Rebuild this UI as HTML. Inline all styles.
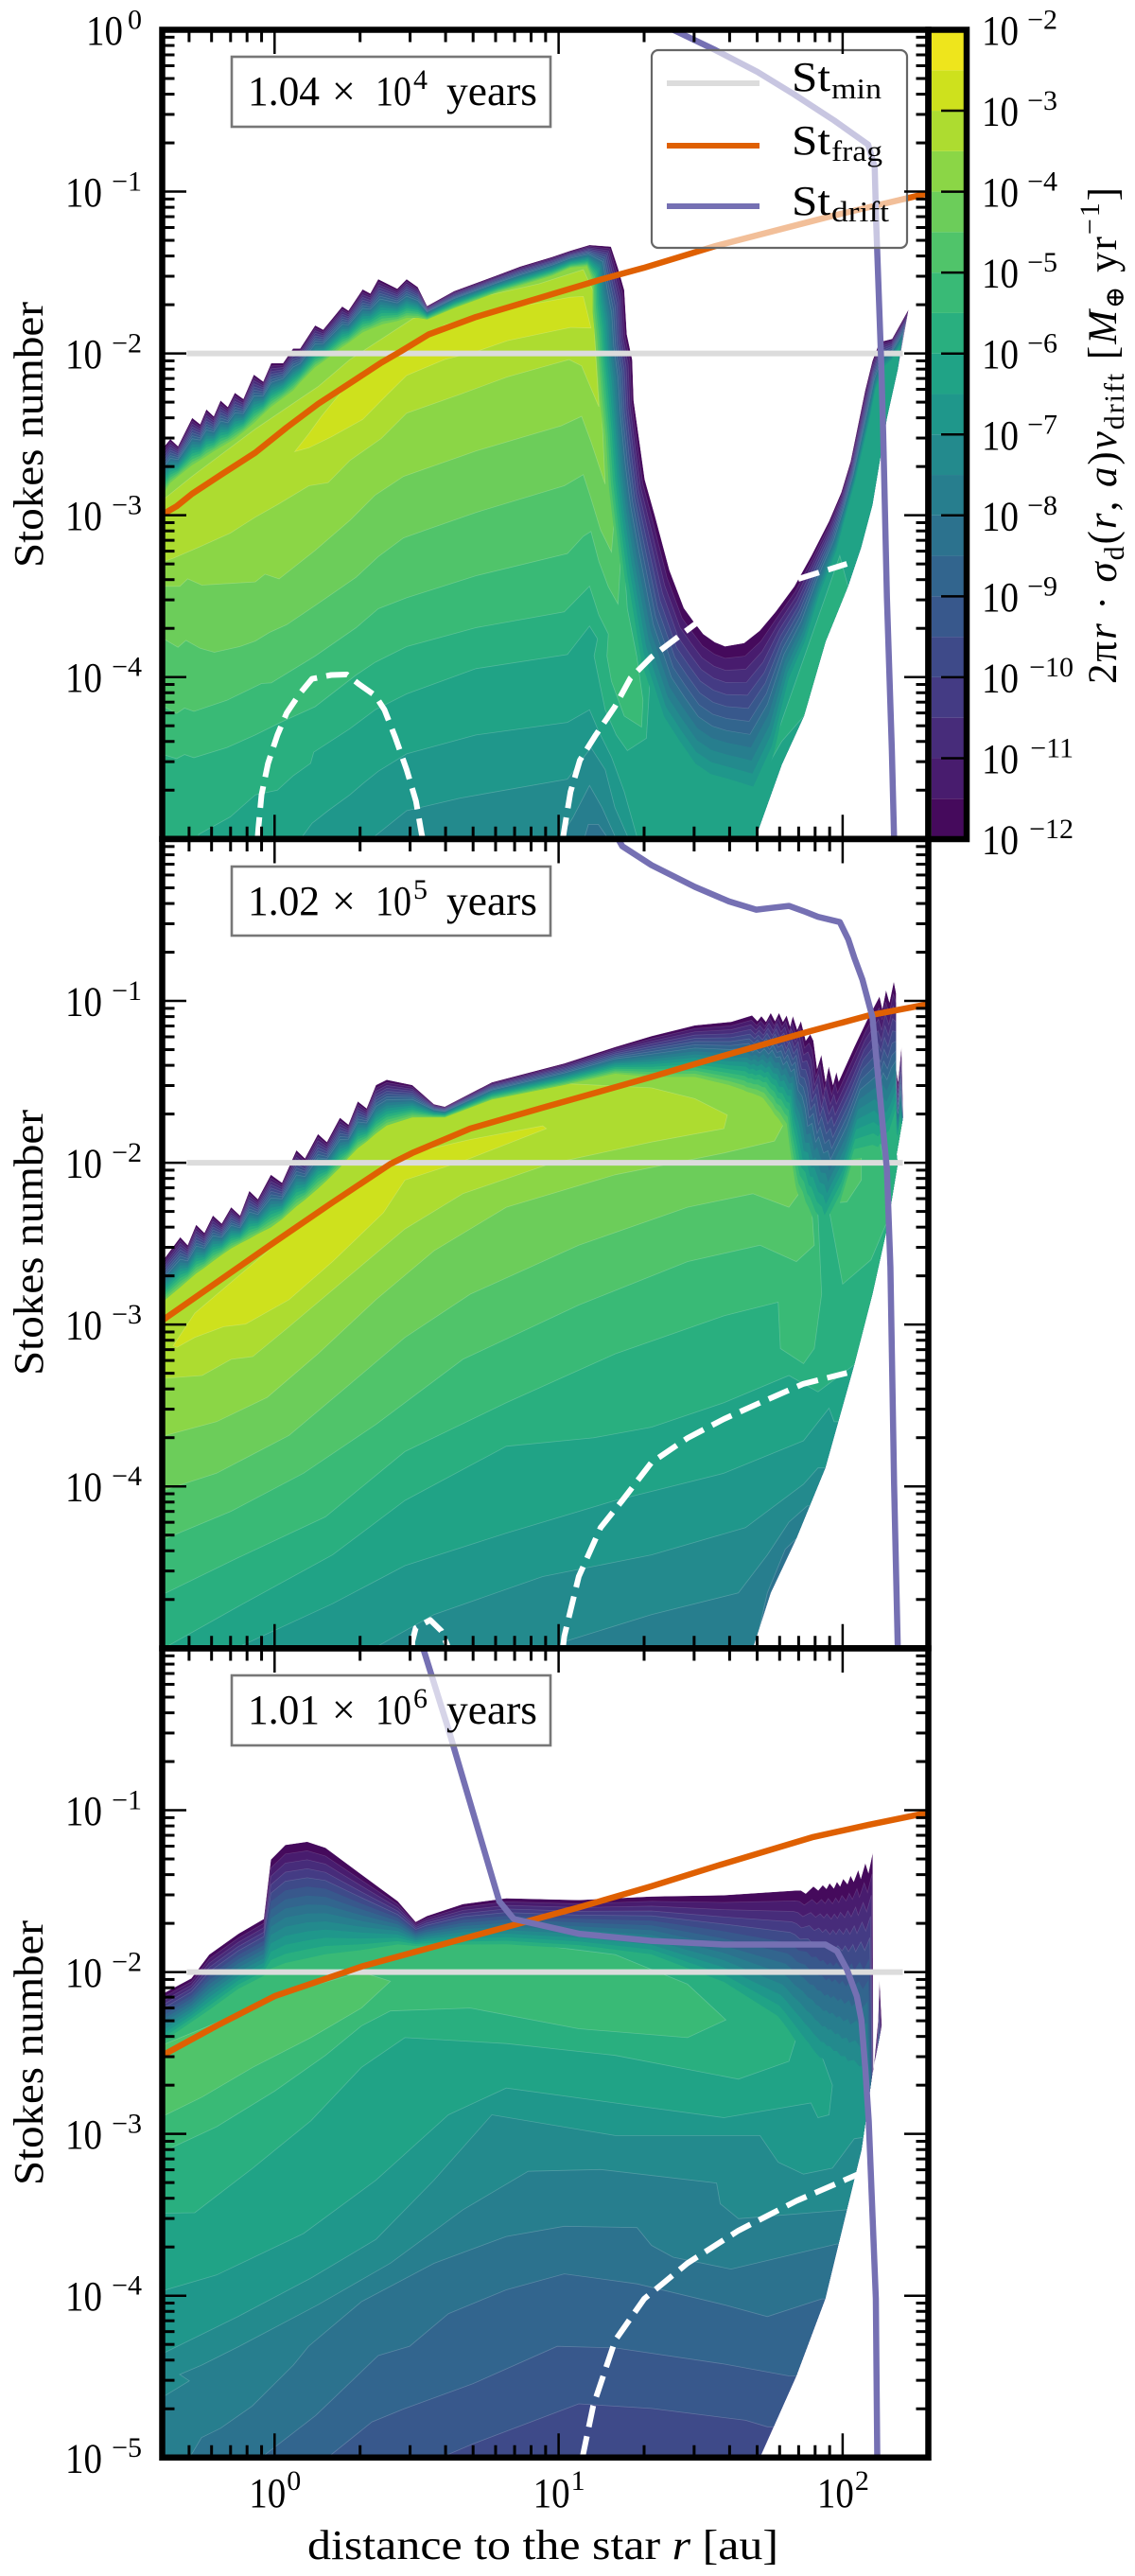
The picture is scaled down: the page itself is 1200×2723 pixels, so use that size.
<!DOCTYPE html>
<html lang="en">
<head>
<meta charset="utf-8">
<title>Stokes number distribution panels</title>
<style>
html,body{margin:0;padding:0;background:#fff;}
svg{display:block;font-family:"Liberation Serif","DejaVu Serif",serif;}
</style>
</head>
<body>
<svg id="chart" xmlns="http://www.w3.org/2000/svg" width="1200" height="2723" viewBox="0 0 1200 2723">
<rect x="0" y="0" width="1200" height="2723" fill="#fff"/>
<g id="panels"></g>
<g id="colorbar"></g>

<g font-size="44" fill="#000">
<text transform="translate(45,600) rotate(-90)" textLength="281" lengthAdjust="spacingAndGlyphs">Stokes number</text>
<text transform="translate(45,1454) rotate(-90)" textLength="281" lengthAdjust="spacingAndGlyphs">Stokes number</text>
<text transform="translate(45,2310) rotate(-90)" textLength="280" lengthAdjust="spacingAndGlyphs">Stokes number</text>
</g>
<text x="325" y="2705" font-size="44" textLength="498" lengthAdjust="spacingAndGlyphs">distance to the star <tspan font-style="italic">r</tspan> [au]</text>
<text transform="translate(1180,723) rotate(-90)" font-size="43" textLength="525" lengthAdjust="spacing">2π<tspan font-style="italic">r</tspan> · <tspan font-style="italic">σ</tspan><tspan font-size="30" dy="8">d</tspan><tspan dy="-8">(</tspan><tspan font-style="italic">r</tspan>, <tspan font-style="italic">a</tspan>)<tspan font-style="italic">v</tspan><tspan font-size="30" dy="8">drift</tspan><tspan dy="-8"> [</tspan><tspan font-style="italic">M</tspan><tspan font-size="28" dy="8">⊕</tspan><tspan dy="-8"> yr</tspan><tspan font-size="30" dy="-18">−1</tspan><tspan dy="18">]</tspan></text>

<g>
<rect x="689" y="53" width="270" height="209" rx="7" ry="7" fill="rgba(255,255,255,0.6)" stroke="#666" stroke-width="2.2"/>
<line x1="705" x2="803" y1="88" y2="88" stroke="#dcdcdc" stroke-width="6"/>
<line x1="705" x2="803" y1="154" y2="154" stroke="#df6002" stroke-width="6"/>
<line x1="705" x2="803" y1="218" y2="218" stroke="#7570b3" stroke-width="6"/>
<text y="96" font-size="44"><tspan x="837" textLength="41" lengthAdjust="spacingAndGlyphs">St</tspan><tspan x="879" y="104" font-size="31" textLength="53" lengthAdjust="spacingAndGlyphs">min</tspan></text>
<text y="163" font-size="44"><tspan x="837" textLength="41" lengthAdjust="spacingAndGlyphs">St</tspan><tspan x="879" y="170" font-size="31" textLength="54" lengthAdjust="spacingAndGlyphs">frag</tspan></text>
<text y="227" font-size="44"><tspan x="837" textLength="41" lengthAdjust="spacingAndGlyphs">St</tspan><tspan x="879" y="234" font-size="31" textLength="61" lengthAdjust="spacingAndGlyphs">drift</tspan></text>
</g>

<g font-size="44">
<g>
<rect x="245" y="60" width="337" height="74" fill="rgba(255,255,255,0.7)" stroke="#777" stroke-width="2.6"/>
<text y="111"><tspan x="262" textLength="76" lengthAdjust="spacingAndGlyphs">1.04</tspan><tspan x="351">×</tspan><tspan x="397" textLength="38" lengthAdjust="spacingAndGlyphs">10</tspan><tspan x="437" y="94" font-size="30">4</tspan><tspan x="472" y="111" textLength="96" lengthAdjust="spacingAndGlyphs">years</tspan></text>
</g>
<g>
<rect x="245" y="916" width="337" height="73" fill="rgba(255,255,255,0.7)" stroke="#777" stroke-width="2.6"/>
<text y="967"><tspan x="262" textLength="76" lengthAdjust="spacingAndGlyphs">1.02</tspan><tspan x="351">×</tspan><tspan x="397" textLength="38" lengthAdjust="spacingAndGlyphs">10</tspan><tspan x="437" y="950" font-size="30">5</tspan><tspan x="472" y="967" textLength="96" lengthAdjust="spacingAndGlyphs">years</tspan></text>
</g>
<g>
<rect x="245" y="1771" width="337" height="74" fill="rgba(255,255,255,0.7)" stroke="#777" stroke-width="2.6"/>
<text y="1822"><tspan x="262" textLength="76" lengthAdjust="spacingAndGlyphs">1.01</tspan><tspan x="351">×</tspan><tspan x="397" textLength="38" lengthAdjust="spacingAndGlyphs">10</tspan><tspan x="437" y="1805" font-size="30">6</tspan><tspan x="472" y="1822" textLength="96" lengthAdjust="spacingAndGlyphs">years</tspan></text>
</g>
</g>
<g id="frames"></g>
</svg>

<script>
// Pairs below are [log10 r (au), log10 St].
const stMinLevel = -2;
const stMinRange = [-0.309, 2.212];

// Edge arrays: [log r, log St of the outermost contour, log r, log St of the innermost rainbow contour].
// ---------- Panel 1 ----------
const p1Edge = [[-0.4,-2.6,-0.4,-2.89],[-0.367,-2.529,-0.367,-2.8],[-0.34,-2.574,-0.34,-2.76],[-0.29,-2.399,-0.29,-2.69],[-0.262,-2.438,-0.262,-2.66],[-0.24,-2.346,-0.24,-2.635],[-0.214,-2.389,-0.214,-2.605],[-0.19,-2.291,-0.19,-2.58],[-0.165,-2.331,-0.165,-2.553],[-0.14,-2.243,-0.14,-2.527],[-0.11,-2.282,-0.11,-2.485],[-0.073,-2.131,-0.073,-2.43],[-0.04,-2.174,-0.04,-2.375],[-0.012,-2.061,-0.012,-2.33],[0.03,-2.06,0.03,-2.275],[0.065,-1.97,0.065,-2.23],[0.09,-1.97,0.09,-2.18],[0.143,-1.827,0.143,-2.085],[0.171,-1.853,0.171,-2.05],[0.238,-1.71,0.238,-1.96],[0.26,-1.736,0.26,-1.935],[0.31,-1.604,0.31,-1.87],[0.337,-1.63,0.337,-1.85],[0.365,-1.541,0.38,-1.82],[0.432,-1.6,0.432,-1.8],[0.465,-1.541,0.465,-1.78],[0.504,-1.59,0.504,-1.78],[0.537,-1.707,0.537,-1.79],[0.632,-1.615,0.632,-1.72],[0.787,-1.515,0.787,-1.62],[0.865,-1.463,0.865,-1.58],[0.976,-1.404,0.976,-1.52],[1.042,-1.365,1.042,-1.47],[1.109,-1.33,1.1,-1.46],[1.184,-1.34,1.12,-1.55],[1.209,-1.473,1.12,-1.75],[1.231,-1.609,1.13,-1.93],[1.24,-1.882,1.135,-2.05],[1.259,-2.038,1.145,-2.28],[1.264,-2.291,1.16,-2.53],[1.286,-2.564,1.17,-2.85],[1.303,-2.779,1.19,-3.15],[1.339,-3.003,1.21,-3.5],[1.39,-3.339,1.26,-4.1],[1.441,-3.574,1.34,-4.55],[1.475,-3.656,1.4,-4.72],[1.509,-3.734,1.47,-4.9],[1.55,-3.785,1.53,-4.97],[1.586,-3.81,1.6,-5],[1.653,-3.79,1.7,-5.08],[1.708,-3.714,1.77,-4.75],[1.764,-3.597,1.83,-4.2],[1.83,-3.44,1.885,-3.93],[1.89,-3.25,1.93,-3.6],[1.952,-3.037,1.99,-3.3],[1.995,-2.86,2.02,-3.05],[2.028,-2.668,2.05,-2.85],[2.079,-2.232,2.1,-2.5],[2.105,-2.047,2.12,-2.3],[2.13,-1.93,2.15,-2.15],[2.174,-1.91,2.17,-2.1],[2.232,-1.728,2.19,-2.05],[2.194,-2.097,2.194,-2.097],[2.156,-2.4,2.156,-2.4],[2.105,-2.936,2.105,-2.936],[2.065,-3.2,2.065,-3.2],[2.019,-3.44,2.019,-3.44],[1.94,-3.78,1.94,-3.78],[1.864,-4.24,1.864,-4.24],[1.786,-4.54,1.786,-4.54],[1.692,-5,1.692,-5],[-0.4,-5,-0.4,-5]];
const p1Level18 = [[0.071,-2.607],[0.121,-2.496],[0.165,-2.389],[0.265,-2.174],[0.376,-2.038],[0.465,-1.96],[0.598,-1.824],[0.765,-1.736],[0.931,-1.687],[1.042,-1.652],[1.087,-1.648],[1.114,-1.843],[1.042,-1.839],[0.82,-1.921],[0.709,-1.989],[0.598,-2.038],[0.465,-2.136],[0.398,-2.252],[0.31,-2.408],[0.199,-2.516],[0.121,-2.583]];
const p1Level17 = [[-0.4,-2.9],[-0.387,-2.896],[-0.29,-2.759],[-0.068,-2.467],[0.154,-2.204],[0.265,-2.038],[0.487,-1.785],[0.709,-1.658],[0.931,-1.57],[1.087,-1.482],[1.12,-1.609],[1.129,-1.96],[1.142,-2.33],[1.109,-2.194],[1.081,-2.077],[1.037,-2.038],[0.82,-2.145],[0.654,-2.252],[0.465,-2.369],[0.376,-2.525],[0.265,-2.662],[0.188,-2.799],[0.121,-2.818],[0.01,-2.935],[-0.068,-3.012],[-0.156,-3.11],[-0.267,-3.198],[-0.356,-3.265],[-0.387,-3.285],[-0.4,-3.29]];
const p1Level16 = [[-0.4,-3.44],[-0.334,-3.44],[-0.306,-3.393],[-0.256,-3.432],[-0.162,-3.422],[-0.068,-3.412],[-0.034,-3.364],[0.016,-3.393],[0.143,-3.217],[0.265,-3.032],[0.354,-2.876],[0.454,-2.76],[0.709,-2.603],[1.009,-2.447],[1.081,-2.389],[1.114,-2.545],[1.164,-2.808],[1.153,-2.39],[1.16,-1],[-0.4,-1]];
const p1Level15 = [[-0.4,-3.754],[-0.34,-3.816],[-0.312,-3.773],[-0.262,-3.822],[-0.212,-3.847],[-0.123,-3.812],[-0.068,-3.777],[-0.018,-3.724],[0.043,-3.676],[0.143,-3.558],[0.287,-3.383],[0.365,-3.256],[0.454,-3.14],[0.532,-3.091],[0.709,-2.983],[1.02,-2.818],[1.087,-2.749],[1.114,-2.895],[1.148,-3.091],[1.186,-3.227],[1.198,-2.974],[1.2,-1],[-0.4,-1]];
const p1Level14 = [[-0.4,-4.173],[-0.345,-4.225],[-0.317,-4.192],[-0.284,-4.212],[-0.168,-4.144],[-0.046,-4.04],[-0.012,-4.036],[0.143,-3.87],[0.287,-3.695],[0.365,-3.578],[0.465,-3.51],[0.709,-3.374],[1.031,-3.237],[1.087,-3.13],[1.114,-3.1],[1.142,-3.286],[1.175,-3.442],[1.209,-3.549],[1.218,-3.286],[1.24,-1],[-0.4,-1]];
const p1Level13 = [[-0.4,-4.475],[-0.345,-4.504],[-0.317,-4.479],[-0.284,-4.498],[-0.168,-4.436],[-0.068,-4.358],[0.021,-4.28],[0.143,-4.183],[0.287,-3.987],[0.354,-3.909],[0.465,-3.812],[0.709,-3.695],[1.02,-3.597],[1.109,-3.438],[1.142,-3.617],[1.175,-3.734],[1.17,-3.87],[1.186,-4.027],[1.231,-4.241],[1.292,-4.309],[1.297,-4.144],[1.275,-3.87],[1.242,-3.578],[1.231,-3.286],[1.25,-1],[-0.4,-1]];
const p1Level12 = [[-0.4,-5],[-0.267,-5],[-0.267,-4.972],[-0.156,-4.864],[-0.068,-4.728],[0.01,-4.699],[0.065,-4.611],[0.127,-4.533],[0.138,-4.464],[0.265,-4.319],[0.354,-4.202],[0.465,-4.104],[0.709,-3.948],[1.031,-3.861],[1.109,-3.685],[1.137,-3.763],[1.125,-3.87],[1.164,-4.202],[1.203,-4.358],[1.242,-4.455],[1.309,-4.378],[1.32,-4.065],[1.297,-3.675],[1.264,-3.286],[1.27,-1],[-0.4,-1]];
const p1Level12b = [[1.703,-4.65],[1.786,-4.397],[1.864,-4.24],[2.019,-3.44],[1.99,-3.25],[1.92,-3.6],[1.85,-3.95],[1.78,-4.3],[1.72,-4.6]];
const p1Level11 = [[-0.4,-5],[0.099,-5],[0.099,-4.982],[0.132,-4.904],[0.188,-4.826],[0.265,-4.728],[0.31,-4.66],[0.365,-4.582],[0.465,-4.475],[0.709,-4.358],[1.031,-4.28],[1.109,-4.202],[1.142,-4.338],[1.186,-4.494],[1.231,-4.709],[1.275,-4.982],[1.28,-5],[2.4,-5],[2.4,0],[-0.4,0]];
const p1Level10 = [[-0.4,-5],[0.354,-5],[0.354,-4.982],[0.465,-4.826],[0.654,-4.748],[1.031,-4.631],[1.114,-4.436],[1.164,-4.572],[1.198,-4.806],[1.242,-4.982],[1.25,-5],[2.4,-5],[2.4,0],[-0.4,0]];
const p1Level9 = [[-0.4,-5],[1.0,-5],[1.05,-4.87],[1.109,-4.67],[1.153,-4.806],[1.198,-4.982],[1.2,-5],[2.4,-5],[2.4,0],[-0.4,0]];
const p1Level8 = [[-0.4,-5],[1.09,-5],[1.105,-4.91],[1.14,-4.91],[1.175,-5],[2.4,-5],[2.4,0],[-0.4,0]];
const p1Frag = [[-0.4,-3.0],[-0.345,-2.945],[-0.29,-2.867],[-0.179,-2.739],[-0.068,-2.613],[0.043,-2.457],[0.154,-2.311],[0.265,-2.184],[0.376,-2.057],[0.443,-1.989],[0.543,-1.882],[0.709,-1.775],[0.931,-1.658],[1.153,-1.541],[1.298,-1.472],[1.553,-1.336],[1.964,-1.15],[2.301,-1.01]];
const p1Drift = [[1.403,0],[1.553,-0.126],[1.7,-0.26],[1.83,-0.4],[1.97,-0.56],[2.09,-0.71],[2.113,-0.85],[2.118,-1.18],[2.136,-2.06],[2.143,-2.5],[2.156,-3.507],[2.173,-4.446],[2.181,-5]];
const p1DashA = [[-0.06,-5],[-0.057,-4.933],[-0.046,-4.728],[-0.023,-4.533],[0.01,-4.358],[0.043,-4.221],[0.088,-4.104],[0.132,-4.011],[0.199,-3.987],[0.254,-3.984],[0.299,-4.046],[0.354,-4.114],[0.387,-4.202],[0.426,-4.377],[0.465,-4.572],[0.498,-4.767],[0.518,-4.972],[0.522,-5]];
const p1DashB = [[1.015,-5],[1.02,-4.943],[1.042,-4.709],[1.075,-4.514],[1.131,-4.358],[1.198,-4.183],[1.253,-4.006],[1.327,-3.876],[1.48,-3.674],[1.6,-3.56],[1.75,-3.44],[1.85,-3.39],[2.015,-3.3]];

// ---------- Panel 2 ----------
const p2Edge = [[-0.4,-2.62,-0.4,-2.87],[-0.332,-2.46,-0.332,-2.77],[-0.306,-2.51,-0.306,-2.73],[-0.276,-2.383,-0.276,-2.685],[-0.247,-2.433,-0.247,-2.65],[-0.217,-2.326,-0.217,-2.61],[-0.186,-2.376,-0.186,-2.57],[-0.153,-2.275,-0.153,-2.53],[-0.122,-2.326,-0.122,-2.5],[-0.089,-2.174,-0.089,-2.47],[-0.059,-2.225,-0.059,-2.44],[-0.013,-2.074,-0.013,-2.4],[0.026,-2.124,0.026,-2.35],[0.077,-1.923,0.077,-2.27],[0.107,-1.973,0.107,-2.23],[0.153,-1.822,0.153,-2.16],[0.184,-1.872,0.184,-2.11],[0.23,-1.722,0.23,-2.03],[0.26,-1.765,0.26,-1.97],[0.293,-1.621,0.293,-1.91],[0.324,-1.664,0.324,-1.87],[0.357,-1.52,0.357,-1.82],[0.395,-1.487,0.395,-1.77],[0.485,-1.52,0.485,-1.72],[0.561,-1.638,0.561,-1.72],[0.599,-1.654,0.599,-1.72],[0.765,-1.503,0.765,-1.61],[1.02,-1.386,1.02,-1.52],[1.199,-1.285,1.199,-1.45],[1.327,-1.218,1.327,-1.47],[1.48,-1.151,1.48,-1.47],[1.608,-1.129,1.6,-1.52],[1.681,-1.09,1.65,-1.55],[1.7,-1.125,1.66,-1.56],[1.714,-1.094,1.67,-1.565],[1.73,-1.129,1.68,-1.57],[1.747,-1.074,1.695,-1.58],[1.762,-1.125,1.71,-1.59],[1.776,-1.074,1.72,-1.6],[1.79,-1.129,1.735,-1.635],[1.803,-1.09,1.75,-1.67],[1.815,-1.158,1.76,-1.7],[1.825,-1.094,1.775,-1.73],[1.84,-1.178,1.79,-1.77],[1.853,-1.125,1.8,-1.8],[1.87,-1.246,1.81,-1.95],[1.886,-1.206,1.82,-2.08],[1.897,-1.246,1.83,-2.2],[1.91,-1.42,1.835,-2.23],[1.925,-1.333,1.85,-2.3],[1.94,-1.5,1.86,-2.35],[1.951,-1.405,1.87,-2.4],[1.966,-1.52,1.89,-2.48],[1.978,-1.44,1.91,-2.55],[1.986,-1.499,1.92,-2.6],[2.041,-1.285,1.98,-2.4],[2.086,-1.119,2.03,-2.1],[2.13,-0.973,2.1,-2.1],[2.14,-1.05,2.12,-2.1],[2.153,-0.934,2.13,-2.1],[2.165,-1.01,2.145,-2.1],[2.18,-0.88,2.16,-2.1],[2.188,-0.953,2.188,-1.9],[2.188,-1.421,2.19,-1.95],[2.195,-1.5,2.195,-1.95],[2.207,-1.285,2.2,-1.9],[2.213,-1.713,2.213,-1.8],[2.19,-1.947,2.19,-1.947],[2.194,-2.007,2.194,-2.007],[2.156,-2.409,2.156,-2.409],[2.105,-2.812,2.105,-2.812],[2.041,-3.248,2.041,-3.248],[1.939,-3.886,1.939,-3.886],[1.837,-4.322,1.837,-4.322],[1.747,-4.658,1.747,-4.658],[1.684,-5,1.684,-5],[-0.4,-5,-0.4,-5]];
const p2Level18 = [[-0.357,-3.131],[-0.281,-2.93],[0,-2.51],[0.255,-2.191],[0.485,-1.94],[0.689,-1.856],[0.944,-1.772],[0.957,-1.789],[0.663,-1.99],[0.459,-2.107],[0.383,-2.309],[0.204,-2.611],[0.051,-2.846],[-0.102,-2.997],[-0.179,-3.013],[-0.281,-3.08],[-0.344,-3.141]];
const p2Level17 = [[1.582,-1.789],[1.327,-1.872],[0.969,-2.007],[0.663,-2.191],[0.459,-2.409],[0.255,-2.711],[0.051,-3.013],[-0.077,-3.198],[-0.153,-3.215],[-0.255,-3.315],[-0.383,-3.332],[-0.4,-3.335],[-0.4,-1.5],[0.9,-1.5],[1.327,-1.537],[1.48,-1.604],[1.594,-1.705]];
const p2Level16 = [[-0.4,-3.7],[-0.383,-3.685],[-0.204,-3.6],[-0.026,-3.45],[0.153,-3.181],[0.357,-2.846],[0.561,-2.544],[0.816,-2.275],[1.199,-2.074],[1.582,-1.94],[1.76,-1.866],[1.811,-1.7],[1.73,-1.55],[1.7,-1],[-0.4,-1]];
const p2Level15 = [[-0.4,-4.03],[-0.383,-4.02],[-0.204,-3.919],[0.051,-3.685],[0.255,-3.383],[0.459,-3.08],[0.689,-2.812],[1.071,-2.51],[1.454,-2.275],[1.684,-2.191],[1.811,-2.275],[1.867,-2.141],[1.798,-1.705],[1.798,-1.3],[1.8,-1],[-0.4,-1]];
const p2Level14 = [[-0.4,-4.33],[-0.383,-4.322],[-0.153,-4.154],[0.102,-3.919],[0.357,-3.617],[0.663,-3.215],[1.071,-2.879],[1.454,-2.611],[1.709,-2.51],[1.837,-2.611],[1.9,-2.51],[1.888,-2.208],[1.849,-1.973],[1.85,-1.5],[1.85,-1],[-0.4,-1]];
const p2Level14b = [[1.977,-2.248],[1.952,-2.107],[1.99,-1.839],[2.028,-1.705],[2.066,-1.873],[2.066,-2.107],[2.015,-2.242]];
const p2Level13 = [[-0.4,-4.66],[-0.383,-4.658],[-0.128,-4.44],[0.179,-4.188],[0.459,-3.785],[0.816,-3.483],[1.199,-3.181],[1.582,-2.946],[1.773,-2.862],[1.781,-3.148],[1.862,-3.242],[1.9,-3.148],[1.926,-2.812],[1.913,-2.309],[1.9,-2.1],[1.9,-1],[-0.4,-1]];
const p2Level13b = [[1.953,-2.3],[1.96,-2.0],[2.0,-1.75],[2.07,-1.6],[2.12,-1.75],[2.15,-2.05],[2.16,-2.35],[2.1,-2.6],[2.0,-2.75]];
const p2Level12 = [[-0.4,-5],[-0.383,-4.993],[-0.128,-4.742],[0.204,-4.423],[0.459,-4.087],[0.816,-3.752],[1.122,-3.7],[1.327,-3.634],[1.582,-3.483],[1.811,-3.315],[1.913,-3.416],[2.041,-3.248],[2.4,-3.25],[2.4,-1],[-0.4,-1]];
const p2Level11 = [[-0.4,-5],[-0.128,-5],[-0.128,-4.993],[0.204,-4.725],[0.459,-4.49],[0.816,-4.289],[1.199,-4.087],[1.582,-3.919],[1.862,-3.718],[1.952,-3.517],[1.97,-3.6],[2.4,-3.6],[2.4,-1],[-0.4,-1]];
const p2Level10 = [[-0.4,-5],[0.33,-5],[0.357,-4.993],[0.561,-4.792],[0.944,-4.557],[1.327,-4.423],[1.658,-4.255],[1.862,-3.987],[1.913,-3.886],[2.4,-3.89],[2.4,-1],[-0.4,-1]];
const p2Level9 = [[-0.4,-5],[0.98,-5],[1.02,-4.96],[1.327,-4.792],[1.633,-4.658],[1.735,-4.423],[1.811,-4.221],[1.875,-4.121],[2.4,-4.12],[2.4,-1],[-0.4,-1]];
const p2Level8 = [[-0.4,-5],[1.68,-5],[1.696,-4.96],[1.735,-4.658],[1.798,-4.389],[1.837,-4.322],[2.4,-4.32],[2.4,-1],[-0.4,-1]];
const p2Frag = [[-0.4,-2.98],[-0.204,-2.74],[0,-2.49],[0.204,-2.245],[0.408,-2.007],[0.485,-1.94],[0.689,-1.789],[0.944,-1.66],[1.327,-1.47],[1.497,-1.381],[1.709,-1.275],[1.886,-1.187],[2.092,-1.09],[2.301,-1.02]];
const p2Drift = [[1.21,0],[1.224,-0.044],[1.327,-0.161],[1.48,-0.295],[1.6,-0.385],[1.696,-0.436],[1.75,-0.425],[1.811,-0.413],[1.87,-0.45],[1.913,-0.48],[1.99,-0.513],[2.02,-0.62],[2.041,-0.732],[2.07,-0.87],[2.105,-1.1],[2.156,-2.04],[2.168,-2.644],[2.181,-3.987],[2.194,-5]];
const p2DashA = [[0.485,-5],[0.485,-4.96],[0.497,-4.876],[0.548,-4.826],[0.587,-4.893],[0.607,-4.977],[0.61,-5]];
const p2DashB = [[1.015,-5],[1.02,-4.926],[1.071,-4.557],[1.148,-4.255],[1.224,-4.087],[1.327,-3.852],[1.454,-3.701],[1.582,-3.584],[1.709,-3.483],[1.862,-3.366],[2.015,-3.299]];

// ---------- Panel 3 ----------
const p3Edge = [[-0.4,-2.14,-0.4,-2.46],[-0.293,-2.039,-0.293,-2.33],[-0.23,-1.892,-0.23,-2.26],[-0.128,-1.764,-0.128,-2.13],[-0.038,-1.672,-0.038,-2.05],[-0.013,-1.305,-0.013,-2.03],[0.038,-1.214,0.038,-2.0],[0.115,-1.195,0.115,-1.97],[0.179,-1.232,0.179,-1.94],[0.306,-1.397,0.306,-1.9],[0.434,-1.562,0.434,-1.85],[0.497,-1.69,0.497,-1.85],[0.536,-1.654,0.536,-1.85],[0.663,-1.58,0.663,-1.85],[0.816,-1.544,0.816,-1.85],[1.071,-1.555,1.071,-1.88],[1.327,-1.533,1.327,-1.95],[1.582,-1.525,1.582,-2.15],[1.837,-1.496,1.76,-2.4],[1.853,-1.496,1.78,-2.45],[1.87,-1.516,1.8,-2.5],[1.897,-1.471,1.83,-2.6],[1.914,-1.496,1.85,-2.65],[1.93,-1.463,1.865,-2.7],[1.943,-1.486,1.88,-2.74],[1.954,-1.451,1.89,-2.78],[1.969,-1.483,1.905,-2.81],[1.98,-1.443,1.915,-2.83],[1.991,-1.471,1.925,-2.85],[2.002,-1.424,1.935,-2.87],[2.017,-1.457,1.95,-2.9],[2.028,-1.405,1.96,-2.92],[2.039,-1.443,1.975,-2.95],[2.055,-1.369,1.99,-2.98],[2.064,-1.424,2.0,-3.0],[2.08,-1.327,2.025,-3.03],[2.091,-1.389,2.045,-3.06],[2.106,-1.262,2.07,-3.1],[2.108,-2.62,2.1,-3.2],[2.125,-2.3,2.12,-2.9],[2.13,-2.05,2.12,-2.9],[2.138,-2.33,2.12,-2.9],[2.105,-2.626,2.105,-2.9],[2.066,-3.102,2.066,-3.102],[2.015,-3.469,2.015,-3.469],[1.939,-4.019,1.939,-4.019],[1.837,-4.496,1.837,-4.496],[1.709,-5,1.709,-5],[-0.4,-5,-0.4,-5]];
const p3Level14 = [[-0.4,-2.89],[-0.383,-2.882],[-0.255,-2.772],[-0.077,-2.589],[0.128,-2.405],[0.306,-2.222],[0.408,-2.057],[0.306,-2.0],[0,-2.149],[-0.23,-2.332],[-0.383,-2.442],[-0.4,-2.45]];
const p3Level13 = [[-0.4,-3.11],[-0.383,-3.102],[-0.204,-2.956],[0,-2.736],[0.179,-2.515],[0.306,-2.332],[0.408,-2.24],[0.689,-2.222],[1.071,-2.35],[1.454,-2.405],[1.589,-2.295],[1.454,-2.075],[1.199,-1.892],[0.944,-1.837],[0.9,-1],[-0.4,-1]];
const p3Level12 = [[-0.4,-3.49],[-0.281,-3.487],[-0.077,-3.212],[0.128,-2.919],[0.306,-2.589],[0.459,-2.405],[0.816,-2.442],[1.199,-2.515],[1.633,-2.662],[1.811,-2.552],[1.837,-2.405],[1.735,-2.149],[1.454,-1.929],[1.071,-1.782],[0.9,-1],[-0.4,-1]];
const p3Level11 = [[-0.4,-3.97],[-0.383,-3.964],[-0.204,-3.872],[0.102,-3.616],[0.357,-3.286],[0.612,-2.882],[0.816,-2.717],[1.199,-2.809],[1.582,-2.9],[1.888,-2.809],[1.913,-2.9],[1.952,-2.882],[1.964,-2.699],[1.888,-2.332],[1.684,-2.039],[1.327,-1.782],[0.9,-1],[-0.4,-1]];
const p3Level10 = [[-0.4,-4.36],[-0.383,-4.348],[-0.128,-4.128],[0.128,-3.891],[0.357,-3.652],[0.561,-3.286],[0.765,-2.882],[1.199,-3.01],[1.709,-3.01],[1.773,-3.175],[1.862,-3.249],[1.964,-3.212],[2.041,-3.03],[2.15,-3],[2.4,-3],[2.4,-1],[-0.4,-1]];
const p3Level9 = [[-0.4,-4.633],[-0.3,-4.526],[-0.334,-4.487],[-0.257,-4.429],[-0.124,-4.312],[0.153,-4.056],[0.408,-3.799],[0.663,-3.469],[0.893,-3.231],[1.148,-3.22],[1.556,-3.304],[1.569,-3.432],[1.633,-3.524],[2.015,-3.469],[2.4,-3.47],[2.4,-1],[-0.4,-1]];
const p3Level8 = [[-0.4,-5],[-0.3,-5],[-0.29,-4.974],[-0.257,-4.877],[-0.19,-4.819],[-0.079,-4.682],[0.066,-4.429],[0.12,-4.312],[0.306,-4.037],[0.561,-3.8],[0.816,-3.634],[1.02,-3.571],[1.276,-3.579],[1.327,-3.689],[1.403,-3.762],[1.607,-3.836],[1.98,-3.68],[2.4,-3.68],[2.4,-1],[-0.4,-1]];
const p3Level7 = [[-0.4,-5],[-0.034,-5],[-0.034,-4.983],[0.145,-4.74],[0.365,-4.37],[0.476,-4.312],[0.612,-4.111],[0.816,-3.964],[1.02,-3.865],[1.276,-3.927],[1.582,-4.056],[1.735,-4.129],[1.926,-4.02],[2.4,-4.02],[2.4,-1],[-0.4,-1]];
const p3Level6 = [[-0.4,-5],[0.19,-5],[0.199,-4.983],[0.343,-4.78],[0.455,-4.7],[0.698,-4.544],[0.995,-4.313],[1.199,-4.323],[1.582,-4.422],[1.811,-4.496],[2.4,-4.5],[2.4,-1],[-0.4,-1]];
const p3Level5 = [[-0.4,-5],[0.6,-5],[0.609,-4.983],[0.698,-4.916],[1.071,-4.668],[1.327,-4.697],[1.658,-4.77],[1.735,-4.81],[2.4,-4.81],[2.4,-1],[-0.4,-1]];
const p3Frag = [[-0.4,-2.52],[-0.204,-2.332],[0,-2.149],[0.306,-1.966],[0.612,-1.819],[1.071,-1.6],[1.327,-1.47],[1.564,-1.34],[1.897,-1.165],[2.092,-1.09],[2.301,-1.015]];
const p3Drift = [[0.523,0],[0.612,-0.499],[0.791,-1.562],[0.842,-1.672],[1.071,-1.763],[1.327,-1.807],[1.582,-1.83],[1.939,-1.83],[1.98,-1.87],[2.015,-1.984],[2.05,-2.15],[2.066,-2.296],[2.08,-2.6],[2.092,-2.92],[2.117,-4.019],[2.122,-5]];
const p3DashA = [[1.084,-5],[1.122,-4.68],[1.199,-4.276],[1.301,-4.02],[1.454,-3.799],[1.633,-3.598],[1.837,-3.414],[2.054,-3.25]];

// ---------- Colour scale and ticks ----------
const bandColors = ['#450a5c','#481c6e','#472c7a','#443b84','#3e4a89','#38588c','#32658e','#2c728e','#277e8e','#238a8d','#1f978b','#20a386','#29af7f','#39ba76','#50c46a','#6ccd5a','#8bd646','#addc30','#cee11d','#eee51c'];
const colorbarTickExps = [-2,-3,-4,-5,-6,-7,-8,-9,-10,-11,-12];
const xMajorExps = [0,1,2];
const xMinorDecades = [-1,0,1,2];
const yMajorExps = [0,-1,-2,-3,-4,-5];
const yMinorDecades = [-5,-4,-3,-2,-1];
const minorMultipliers = [2,3,4,5,6,7,8,9];

const panels = [
 {name:'top', top:31.5, edge:p1Edge, topLevels:16,
  levels:{8:[p1Level8],9:[p1Level9],10:[p1Level10],11:[p1Level11],12:[p1Level12,p1Level12b],13:[p1Level13],14:[p1Level14],15:[p1Level15],16:[p1Level16],17:[p1Level17],18:[p1Level18]},
  frag:p1Frag, drift:p1Drift, dashes:[p1DashA,p1DashB], yLabels:[0,-1,-2,-3,-4]},
 {name:'middle', top:887, edge:p2Edge, topLevels:16,
  levels:{8:[p2Level8],9:[p2Level9],10:[p2Level10],11:[p2Level11],12:[p2Level12],13:[p2Level13,p2Level13b],14:[p2Level14,p2Level14b],15:[p2Level15],16:[p2Level16],17:[p2Level17],18:[p2Level18]},
  frag:p2Frag, drift:p2Drift, dashes:[p2DashA,p2DashB], yLabels:[-1,-2,-3,-4]},
 {name:'bottom', top:1742.5, edge:p3Edge, topLevels:14,
  levels:{5:[p3Level5],6:[p3Level6],7:[p3Level7],8:[p3Level8],9:[p3Level9],10:[p3Level10],11:[p3Level11],12:[p3Level12],13:[p3Level13],14:[p3Level14]},
  frag:p3Frag, drift:p3Drift, dashes:[p3DashA], yLabels:[-1,-2,-3,-4,-5]}
];

const SVGNS = 'http://www.w3.org/2000/svg';
const PX_PER_DEX_X = 300.3, X_ORIGIN = 290.3, PX_PER_DEX_Y = 171.05;
const PLOT_L = 171.5, PLOT_R = 981.5;
function xPos(logR){ return X_ORIGIN + PX_PER_DEX_X * logR; }
function yPos(panel, logSt){ return panel.top - PX_PER_DEX_Y * logSt; }
function pointsOf(panel, pairs){ return pairs.map(p => xPos(p[0]).toFixed(1) + ',' + yPos(panel, p[1]).toFixed(1)).join(' '); }
function make(tag, attrs, parent){
  const e = document.createElementNS(SVGNS, tag);
  for (const k in attrs) e.setAttribute(k, attrs[k]);
  parent.appendChild(e);
  return e;
}
function power(parent, exp, rightX, baseline, tenRight){
  const ten = make('text', {x:tenRight, y:baseline, 'font-size':44, 'text-anchor':'end', textLength:39, lengthAdjust:'spacingAndGlyphs'}, parent);
  ten.textContent = '10';
  
  
  const sup = make('text', {x:rightX, y:baseline - 16.5, 'font-size':30, 'text-anchor':'end'}, parent);
  sup.textContent = String(exp).replace('-', '\u2212');
  
  
}
function tick(parent, x1, y1, x2, y2, width){
  const t = make('line', {x1:x1, y1:y1, x2:x2, y2:y2, stroke:'#000', 'stroke-width':width}, parent);
  
  
}

const root = document.getElementById('panels');
const frames = document.getElementById('frames');
const defs = make('defs', {}, document.getElementById('chart'));

panels.forEach(function(panel){
  const top = panel.top, bottom = yPos(panel, -5);
  const id = panel.name;
  const outer = panel.edge.map(e => [e[0], e[1]]);
  const g = make('g', {}, root);
  
  

  const plotClip = make('clipPath', {id:'plot-' + id}, defs);
  make('rect', {x:PLOT_L, y:top, width:PLOT_R - PLOT_L, height:bottom - top}, plotClip);
  const domainClip = make('clipPath', {id:'domain-' + id}, defs);
  make('polygon', {points:pointsOf(panel, outer)}, domainClip);

  const plotGroup = make('g', {'clip-path':'url(#plot-' + id + ')'}, g);
  
  
  const field = make('g', {'clip-path':'url(#domain-' + id + ')'}, plotGroup);
  
  

  const maxLevel = Math.max.apply(null, Object.keys(panel.levels).map(Number));
  bandColors.forEach(function(color, level){
    if (level > maxLevel) return;
    const t = Math.min(1, level / panel.topLevels);
    const edge = panel.edge.map(function(e){
      return [e[0] + (e[2] - e[0]) * t, e[1] + (e[3] - e[1]) * t];
    });
    const parts = panel.levels[level];
    if (!parts) {
      const band = make('polygon', {points:pointsOf(panel, edge), fill:color, stroke:'rgba(255,255,255,0.15)', 'stroke-width':0.7}, field);
      
      
      return;
    }
    const clip = make('clipPath', {id:'top-' + id + '-' + level}, defs);
    make('polygon', {points:pointsOf(panel, edge)}, clip);
    const layer = make('g', {'clip-path':'url(#top-' + id + '-' + level + ')'}, field);
    
    
    parts.forEach(function(part){
      const band = make('polygon', {points:pointsOf(panel, part), fill:color, stroke:'rgba(255,255,255,0.2)', 'stroke-width':0.8}, layer);
      
      
    });
  });

  const minLine = make('line', {x1:xPos(stMinRange[0]), x2:xPos(stMinRange[1]), y1:yPos(panel, stMinLevel), y2:yPos(panel, stMinLevel), stroke:'#dcdcdc', 'stroke-width':6}, plotGroup);
  
  

  panel.dashes.forEach(function(d){
    const dash = make('polyline', {points:pointsOf(panel, d), fill:'none', stroke:'#fff', 'stroke-width':6, 'stroke-dasharray':'23 10', 'stroke-linejoin':'round'}, plotGroup);
    
    
  });

  const frag = make('polyline', {points:pointsOf(panel, panel.frag), fill:'none', stroke:'#df6002', 'stroke-width':6.5, 'stroke-linejoin':'round'}, plotGroup);
  
  

  const drift = make('polyline', {points:pointsOf(panel, panel.drift), fill:'none', stroke:'#7570b3', 'stroke-width':6.5, 'stroke-linejoin':'round'}, plotGroup);
  
  

  const frame = make('g', {}, frames);
  
  

  xMinorDecades.forEach(function(dec){
    minorMultipliers.forEach(function(m){
      const lr = dec + Math.log10(m);
      if (lr <= -0.39 || lr >= 2.3) return;
      const x = xPos(lr);
      tick(frame, x, top, x, top + 13, 3);
      tick(frame, x, bottom, x, bottom - 13, 3);
    });
  });
  xMajorExps.forEach(function(e){
    const x = xPos(e);
    tick(frame, x, top, x, top + 25.5, 2.5);
    tick(frame, x, bottom, x, bottom - 25.5, 2.5);
  });
  yMinorDecades.forEach(function(dec){
    minorMultipliers.forEach(function(m){
      const y = yPos(panel, dec + Math.log10(m));
      tick(frame, PLOT_L, y, PLOT_L + 13, y, 3);
      tick(frame, PLOT_R, y, PLOT_R - 13, y, 3);
    });
  });
  yMajorExps.forEach(function(e){
    const y = yPos(panel, e);
    tick(frame, PLOT_L, y, PLOT_L + 25.5, y, 2.5);
    tick(frame, PLOT_R, y, PLOT_R - 25.5, y, 2.5);
  });
  const spine = make('rect', {x:PLOT_L, y:top, width:PLOT_R - PLOT_L, height:bottom - top, fill:'none', stroke:'#000', 'stroke-width':6.5}, frame);
  
  

  panel.yLabels.forEach(function(e){
    const base = yPos(panel, e) + 15.5;
    if (e === 0) power(frame, e, 150, base, 130);
    else power(frame, e, 150, base, 108);
  });
});

// x tick labels on the bottom panel only
xMajorExps.forEach(function(e){
  const cx = xPos(e);
  const baseline = 2650;
  const ten = make('text', {x:cx + 12, y:baseline, 'font-size':44, 'text-anchor':'end', textLength:39, lengthAdjust:'spacingAndGlyphs'}, frames);
  ten.textContent = '10';
  
  
  const sup = make('text', {x:cx + 13, y:baseline - 18, 'font-size':30}, frames);
  sup.textContent = String(e);
  
  
});

// colour bar
const cb = document.getElementById('colorbar');
const CB_TOP = 31.5, CB_PX_PER_DEX = 85.55, CB_L = 985, CB_R = 1022;
function cbY(exp){ return CB_TOP + (-2 - exp) * CB_PX_PER_DEX; }
bandColors.forEach(function(color, i){
  const lo = -12 + i * 0.5, hi = lo + 0.5;
  const band = make('rect', {x:CB_L, y:cbY(hi), width:CB_R - CB_L, height:cbY(lo) - cbY(hi), fill:color}, cb);
  
  
});
colorbarTickExps.forEach(function(e){
  const y = cbY(e);
  if (e > -12 && e < -2) tick(cb, CB_R, y, 995, y, 2.5);
  power(cb, e, e <= -10 ? 1135 : 1118, y + 15.5, 1077);
});
const cbFrame = make('rect', {x:CB_L - 3.5, y:CB_TOP, width:CB_R - CB_L + 3.5, height:cbY(-12) - CB_TOP, fill:'none', stroke:'#000', 'stroke-width':6.5}, cb);


</script>
</body>
</html>
